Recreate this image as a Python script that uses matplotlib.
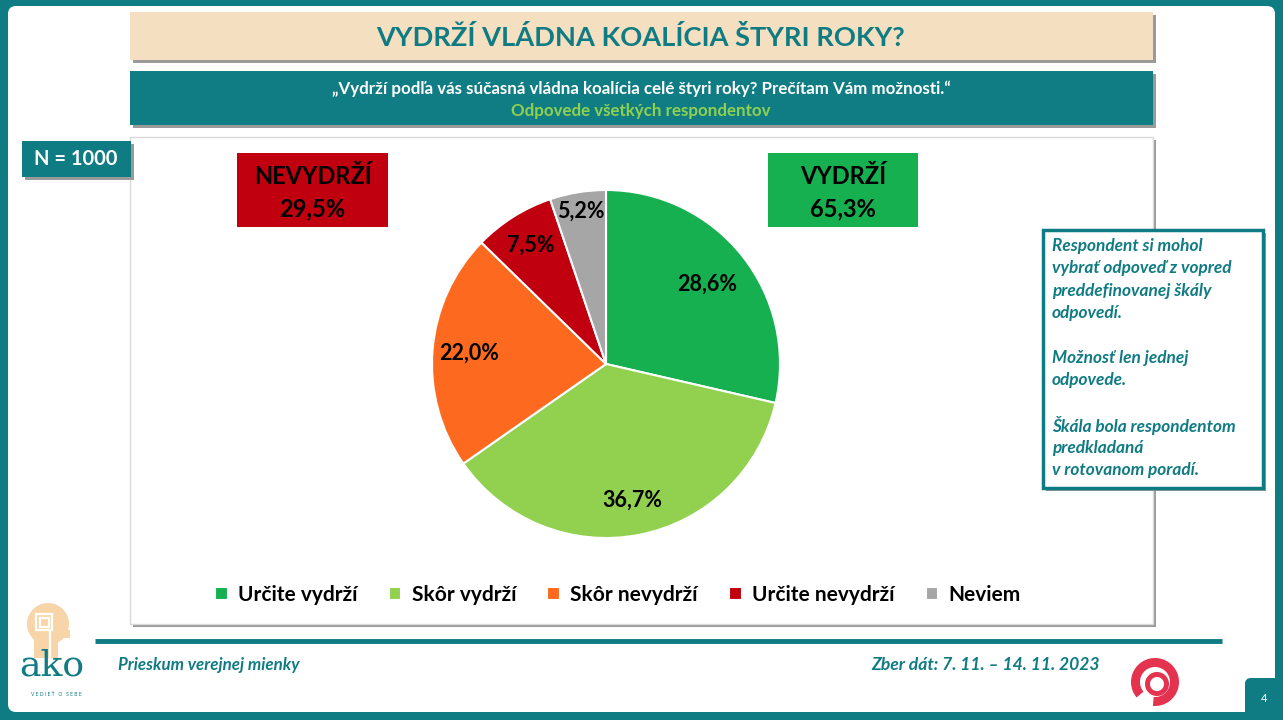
import numpy as np
import matplotlib.pyplot as plt
from matplotlib.patches import Rectangle, FancyBboxPatch, Wedge, Ellipse

plt.rcParams['font.family'] = ['Lato', 'DejaVu Sans']

TEAL = '#0f7b83'

categories = ['Určite vydrží', 'Skôr vydrží', 'Skôr nevydrží', 'Určite nevydrží', 'Neviem']
values = [28.6, 36.7, 22.0, 7.5, 5.2]
colors = ['#17b050', '#92d050', '#fd6a1f', '#c0000f', '#a6a6a6']
label_dist = [0.74, 0.80, 0.79, 0.81, 0.89]

summary_labels = ['NEVYDRŽÍ', 'VYDRŽÍ']
summary_values = ['29,5%', '65,3%']

note_lines = ['Respondent si mohol', 'vybrať odpoveď z vopred', 'preddefinovanej škály',
              'odpovedí.', '', 'Možnosť len jednej', 'odpovede.', '',
              'Škála bola respondentom', 'predkladaná', 'v rotovanom poradí.']


def fmt(v):
    return f'{v:.1f}'.replace('.', ',') + '%'


fig = plt.figure(figsize=(12.83, 7.2), dpi=100, facecolor=TEAL)

# background axes in pixel coordinates
bg = fig.add_axes([0, 0, 1, 1])
bg.set_xlim(0, 1283)
bg.set_ylim(720, 0)
bg.axis('off')


def box(x0, y0, x1, y1, fc, ec='none', lw=0, shadow=False, z=1):
    if shadow:
        bg.add_patch(Rectangle((x0 + 3, y0 + 3), x1 - x0, y1 - y0, fc='#9a9a9a', ec='none', zorder=z - 0.5))
    bg.add_patch(Rectangle((x0, y0), x1 - x0, y1 - y0, fc=fc, ec=ec, lw=lw, zorder=z))


# white page
bg.add_patch(FancyBboxPatch((8, 6), 1267, 706, boxstyle='round,pad=0,rounding_size=8',
                            fc='white', ec='none', zorder=0))

# title
box(130, 12, 1153, 60, '#f5dfc1', shadow=True)
bg.text(641, 37, 'VYDRŽÍ VLÁDNA KOALÍCIA ŠTYRI ROKY?', ha='center', va='center',
        fontsize=19.6, fontweight='bold', color=TEAL, zorder=3)

# subtitle
box(130, 71, 1153, 125, '#107d85', shadow=True)
bg.text(641, 89, '„Vydrží podľa vás súčasná vládna koalícia celé štyri roky? Prečítam Vám možnosti.“',
        ha='center', va='center', fontsize=12.2, fontweight='bold', color='white', zorder=3)
bg.text(641, 111, 'Odpovede všetkých respondentov', ha='center', va='center',
        fontsize=12.2, fontweight='bold', color='#8fd14f', zorder=3)

# chart area
box(130, 137, 1153, 624, 'white', ec='#d9d9d9', lw=1, shadow=True)

# N box
box(22, 141, 131, 177, TEAL, shadow=True, z=2)
bg.text(76, 159, 'N = 1000', ha='center', va='center', fontsize=14.5, fontweight='bold', color='white', zorder=3)

# summary boxes
for (x0, x1, fc), lab, val in zip([(237, 388, '#c0000f'), (768, 918, '#17b050')],
                                  summary_labels, summary_values):
    box(x0, 153, x1, 227, fc, z=2)
    bg.text((x0 + x1) / 2, 177, lab, ha='center', va='center', fontsize=17, fontweight='bold', zorder=3)
    bg.text((x0 + x1) / 2, 209, val, ha='center', va='center', fontsize=17, fontweight='bold', zorder=3)

# note box
box(1043, 230, 1263, 488, 'white', ec=TEAL, lw=2.5, shadow=True, z=2)
for i, line in enumerate(note_lines):
    bg.text(1052, 246 + i * 22.4, line, ha='left', va='center', fontsize=12.4,
            fontweight='bold', fontstyle='italic', color=TEAL, zorder=3)

# footer
bg.plot([95, 1222], [641, 641], color=TEAL, lw=3.5, solid_capstyle='butt', zorder=2)
bg.text(118, 665, 'Prieskum verejnej mienky', ha='left', va='center', fontsize=12.2,
        fontweight='bold', fontstyle='italic', color=TEAL)
bg.text(1100, 665, 'Zber dát: 7. 11. – 14. 11. 2023', ha='right', va='center', fontsize=12.6,
        fontweight='bold', fontstyle='italic', color=TEAL)

# ako logo (simplified)
PEACH = '#f8d5a8'
bg.add_patch(Ellipse((48, 624), 42, 42, fc=PEACH, ec='none', zorder=2))
bg.add_patch(Rectangle((34, 630), 24, 28, fc=PEACH, ec='none', zorder=2))
bg.add_patch(Rectangle((62, 630), 8, 8, fc=PEACH, ec='none', zorder=2))
for s in (16, 9):
    bg.add_patch(Rectangle((44 - s / 2, 622 - s / 2), s, s, fc='none', ec='white', lw=1.6, zorder=3))
bg.plot([50, 50], [630, 660], color='white', lw=1.6, zorder=3)
bg.text(52, 665, 'ako', ha='center', va='center', fontsize=26, family='DejaVu Serif', color=TEAL, zorder=3)
bg.text(56, 694, 'V E D I E Ť   O   S E B E', ha='center', va='center', fontsize=3.6, color=TEAL, zorder=3)

# red swirl logo
bg.add_patch(Wedge((1155, 682), 24, 140, 455, width=9, fc='#e4334f', ec='none', zorder=3))
bg.add_patch(Wedge((1157, 684), 12, 0, 360, width=5, fc='#e4334f', ec='none', zorder=3))

# page number tab
bg.add_patch(FancyBboxPatch((1245, 678), 40, 40, boxstyle='round,pad=0,rounding_size=6',
                            fc=TEAL, ec='none', zorder=3))
bg.text(1264, 698, '4', ha='center', va='center', fontsize=8, color='white', zorder=4)

# pie
cx, cy, r = 606, 364, 174
pax = fig.add_axes([(cx - r) / 1283, (720 - cy - r) / 720, 2 * r / 1283, 2 * r / 720])
wedges, _ = pax.pie(values, colors=colors, startangle=90, counterclock=False,
                    wedgeprops=dict(edgecolor='white', linewidth=1.5))
pax.set_xlim(-1, 1)
pax.set_ylim(-1, 1)
for w, v, d in zip(wedges, values, label_dist):
    ang = np.deg2rad((w.theta1 + w.theta2) / 2)
    pax.text(d * np.cos(ang), d * np.sin(ang), fmt(v), ha='center', va='center',
             fontsize=15.5, fontweight='bold', color='black')

fig.legend(wedges, categories, loc='center', bbox_to_anchor=(618 / 1283, 1 - 595 / 720), ncol=5,
           frameon=False, prop=dict(weight='bold', size=15),
           handlelength=0.6, handleheight=0.6, handletextpad=0.5, columnspacing=1.5)

fig.savefig('out.png', dpi=100, facecolor=TEAL)
